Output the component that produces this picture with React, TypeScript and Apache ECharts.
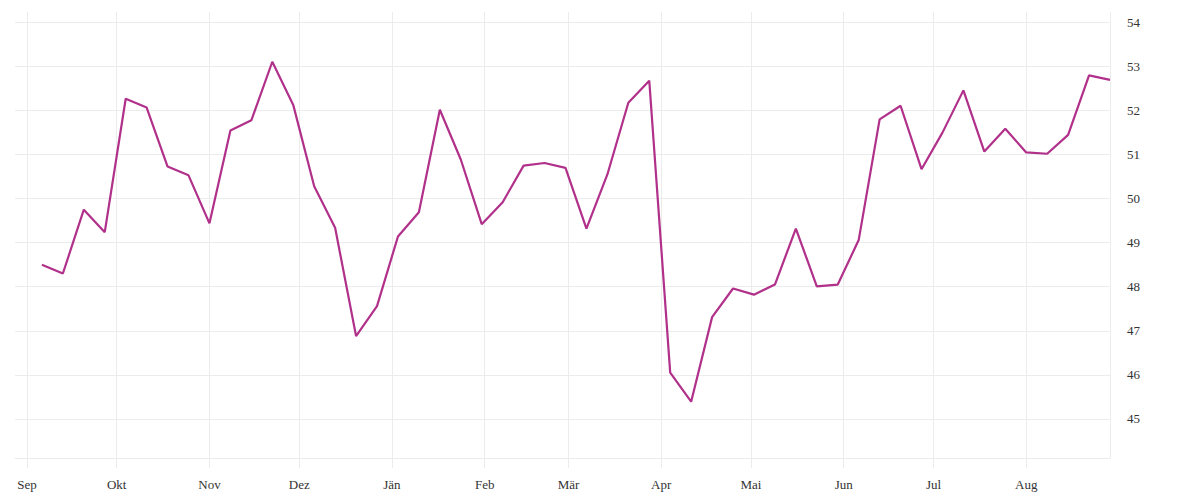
import React, { useEffect, useRef } from 'react'
import * as echarts from 'echarts'

// weekly dates and values
const dates = [
  '2022-09-06', '2022-09-13', '2022-09-20', '2022-09-27',
  '2022-10-04', '2022-10-11', '2022-10-18', '2022-10-25',
  '2022-11-01', '2022-11-08', '2022-11-15', '2022-11-22', '2022-11-29',
  '2022-12-06', '2022-12-13', '2022-12-20', '2022-12-27',
  '2023-01-03', '2023-01-10', '2023-01-17', '2023-01-24', '2023-01-31',
  '2023-02-07', '2023-02-14', '2023-02-21', '2023-02-28',
  '2023-03-07', '2023-03-14', '2023-03-21', '2023-03-28',
  '2023-04-04', '2023-04-11', '2023-04-18', '2023-04-25',
  '2023-05-02', '2023-05-09', '2023-05-16', '2023-05-23', '2023-05-30',
  '2023-06-06', '2023-06-13', '2023-06-20', '2023-06-27',
  '2023-07-04', '2023-07-11', '2023-07-18', '2023-07-25',
  '2023-08-01', '2023-08-08', '2023-08-15', '2023-08-22', '2023-08-29',
]

const values = [
  48.50, 48.30, 49.75, 49.24, 52.27, 52.07, 50.73, 50.53, 49.44, 51.55,
  51.78, 53.11, 52.13, 50.28, 49.34, 46.88, 47.56, 49.14, 49.69, 52.02,
  50.89, 49.42, 49.92, 50.75, 50.81, 50.70, 49.32, 50.55, 52.18, 52.68,
  46.05, 45.39, 47.31, 47.96, 47.82, 48.05, 49.32, 48.01, 48.05, 49.06,
  51.80, 52.11, 50.67, 51.50, 52.46, 51.07, 51.59, 51.05, 51.02, 51.45,
  52.80, 52.70,
]

const monthLabels = ['Jän', 'Feb', 'Mär', 'Apr', 'Mai', 'Jun', 'Jul', 'Aug', 'Sep', 'Okt', 'Nov', 'Dez']

const FONT = '"Liberation Serif", "DejaVu Serif", serif'
const GRID = '#ececec'

function App() {
  const chartRef = useRef<HTMLDivElement>(null)

  useEffect(() => {
    document.body.style.margin = '0'
    const chart = echarts.init(chartRef.current as HTMLDivElement, undefined, { renderer: 'svg' })
    chart.setOption({
      animation: false,
      useUTC: true,
      grid: { left: 15, right: 90, top: 12, bottom: 42 },
      xAxis: {
        type: 'time',
        min: Date.UTC(2022, 7, 28),
        max: Date.UTC(2023, 7, 29),
        splitNumber: 12,
        axisLine: { show: true, lineStyle: { color: GRID, width: 1 } },
        axisTick: { show: true, length: 10, lineStyle: { color: GRID } },
        splitLine: { show: true, showMinLine: false, lineStyle: { color: GRID, width: 1 } },
        axisLabel: {
          margin: 20,
          color: '#333',
          fontFamily: FONT,
          fontSize: 13,
          showMinLabel: false,
          showMaxLabel: false,
          formatter: (v: number) => {
            const d = new Date(v)
            if (d.getUTCDate() !== 1) return ''
            return monthLabels[d.getUTCMonth()]
          },
        },
      },
      yAxis: {
        type: 'value',
        position: 'right',
        min: 44.11,
        max: 54.24,
        splitNumber: 10,
        axisLine: { show: true, lineStyle: { color: GRID } },
        axisTick: { show: false },
        splitLine: { show: true, showMaxLine: false, lineStyle: { color: GRID, width: 1 } },
        axisLabel: {
          margin: 17,
          color: '#333',
          fontFamily: FONT,
          fontSize: 13,
          showMinLabel: false,
          showMaxLabel: false,
          formatter: (v: number) => (Math.abs(v - Math.round(v)) < 1e-6 ? String(Math.round(v)) : ''),
        },
      },
      series: [
        {
          type: 'line',
          data: dates.map((d, i) => [d, values[i]]),
          showSymbol: false,
          symbol: 'none',
          lineStyle: { color: '#b0308a', width: 2.2 },
          itemStyle: { color: '#b0308a' },
          clip: false,
        },
      ],
    })
    return () => {
      chart.dispose()
    }
  }, [])

  return <div ref={chartRef} style={{ width: 1200, height: 500 }} />
}

export default App
